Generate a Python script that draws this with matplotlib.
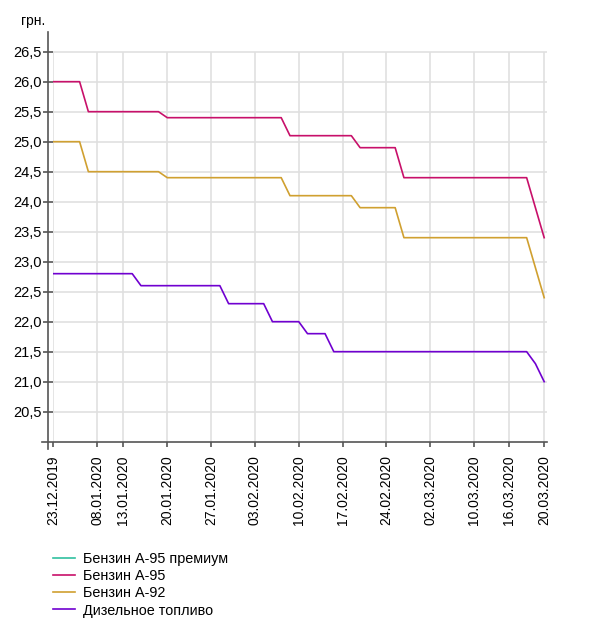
import numpy as np
import matplotlib
matplotlib.use('Agg')
import matplotlib.pyplot as plt
from matplotlib.ticker import FuncFormatter

dates = ['23.12.2019', '24.12.2019', '26.12.2019', '27.12.2019', '30.12.2019',
         '08.01.2020', '09.01.2020', '10.01.2020', '13.01.2020', '14.01.2020',
         '15.01.2020', '16.01.2020', '17.01.2020', '20.01.2020', '21.01.2020',
         '22.01.2020', '23.01.2020', '24.01.2020', '27.01.2020', '28.01.2020',
         '29.01.2020', '30.01.2020', '31.01.2020', '03.02.2020', '04.02.2020',
         '05.02.2020', '06.02.2020', '07.02.2020', '10.02.2020', '11.02.2020',
         '12.02.2020', '13.02.2020', '14.02.2020', '17.02.2020', '18.02.2020',
         '19.02.2020', '20.02.2020', '21.02.2020', '24.02.2020', '25.02.2020',
         '26.02.2020', '27.02.2020', '28.02.2020', '02.03.2020', '03.03.2020',
         '04.03.2020', '05.03.2020', '06.03.2020', '10.03.2020', '11.03.2020',
         '12.03.2020', '13.03.2020', '16.03.2020', '17.03.2020', '18.03.2020',
         '19.03.2020', '20.03.2020']

a95 = [26.0, 26.0, 26.0, 26.0,
       25.5, 25.5, 25.5, 25.5, 25.5, 25.5, 25.5, 25.5, 25.5,
       25.4, 25.4, 25.4, 25.4, 25.4, 25.4, 25.4, 25.4, 25.4, 25.4, 25.4, 25.4, 25.4, 25.4,
       25.1, 25.1, 25.1, 25.1, 25.1, 25.1, 25.1, 25.1,
       24.9, 24.9, 24.9, 24.9, 24.9,
       24.4, 24.4, 24.4, 24.4, 24.4, 24.4, 24.4, 24.4, 24.4, 24.4, 24.4, 24.4, 24.4, 24.4, 24.4,
       23.9, 23.4]

a92 = [25.0, 25.0, 25.0, 25.0,
       24.5, 24.5, 24.5, 24.5, 24.5, 24.5, 24.5, 24.5, 24.5,
       24.4, 24.4, 24.4, 24.4, 24.4, 24.4, 24.4, 24.4, 24.4, 24.4, 24.4, 24.4, 24.4, 24.4,
       24.1, 24.1, 24.1, 24.1, 24.1, 24.1, 24.1, 24.1,
       23.9, 23.9, 23.9, 23.9, 23.9,
       23.4, 23.4, 23.4, 23.4, 23.4, 23.4, 23.4, 23.4, 23.4, 23.4, 23.4, 23.4, 23.4, 23.4, 23.4,
       22.9, 22.4]

diesel = [22.8, 22.8, 22.8, 22.8, 22.8, 22.8, 22.8, 22.8, 22.8, 22.8,
          22.6, 22.6, 22.6, 22.6, 22.6, 22.6, 22.6, 22.6, 22.6, 22.6,
          22.3, 22.3, 22.3, 22.3, 22.3,
          22.0, 22.0, 22.0, 22.0,
          21.8, 21.8, 21.8,
          21.5, 21.5, 21.5, 21.5, 21.5, 21.5, 21.5, 21.5, 21.5, 21.5, 21.5, 21.5,
          21.5, 21.5, 21.5, 21.5, 21.5, 21.5, 21.5, 21.5, 21.5, 21.5, 21.5,
          21.3, 21.0]

tick_dates = ['23.12.2019', '08.01.2020', '13.01.2020', '20.01.2020', '27.01.2020',
              '03.02.2020', '10.02.2020', '17.02.2020', '24.02.2020', '02.03.2020',
              '10.03.2020', '16.03.2020', '20.03.2020']
y_ticks = [20.5, 21.0, 21.5, 22.0, 22.5, 23.0, 23.5, 24.0, 24.5, 25.0, 25.5, 26.0, 26.5]

labels = ['Бензин А-95 премиум', 'Бензин А-95', 'Бензин А-92', 'Дизельное топливо']
colors = ['#30c0a0', '#c8106a', '#d0a030', '#7000d0']

plt.rcParams['font.family'] = ['Liberation Sans', 'DejaVu Sans']
plt.rcParams['font.size'] = 10

fig = plt.figure(figsize=(5.93, 6.24), dpi=100)
ax = fig.add_axes([0.0899, 0.2922, 0.8322, 0.6567])

x = np.arange(len(dates))
tick_pos = [dates.index(d) for d in tick_dates]

# premium has no data, legend only
ax.plot([], [], color=colors[0], lw=1.2, label=labels[0])
ax.plot(x, a95, color=colors[1], lw=1.2, label=labels[1])
ax.plot(x, a92, color=colors[2], lw=1.2, label=labels[2])
ax.plot(x, diesel, color=colors[3], lw=1.2, label=labels[3])

ax.set_xlim(0, 56.3)
ax.set_ylim(20, 26.83)

ax.set_yticks(y_ticks)
ax.yaxis.set_major_formatter(FuncFormatter(lambda v, p: ('%.1f' % v).replace('.', ',')))
ax.set_xticks(tick_pos)
ax.set_xticklabels(tick_dates, rotation=90)

ax.grid(axis='y', color='#e0e0e0', lw=1.2)
ax.vlines(tick_pos, 20, 26.5, color='#e0e0e0', lw=1.2, zorder=0)
ax.set_axisbelow(True)

for s in ['top', 'right']:
    ax.spines[s].set_visible(False)
ax.spines['left'].set_position(('outward', 3.6))
ax.spines['left'].set_bounds(19.88, 26.83)
ax.spines['bottom'].set_bounds(-1.3, 56.3)
for s in ['left', 'bottom']:
    ax.spines[s].set_color('#555555')
    ax.spines[s].set_linewidth(1.2)

ax.tick_params(axis='y', direction='inout', length=7.2, width=1.2, color='#555555',
               pad=1, labelsize=10.5)
ax.tick_params(axis='x', direction='out', length=3.6, width=1.2, color='#555555', pad=6)

fig.text(45 / 593, 1 - 21 / 624, 'грн.', ha='right', va='center', fontsize=10)

fig.legend(loc='upper left', bbox_to_anchor=(53 / 593, 1 - 552 / 624), frameon=False,
           fontsize=10.4, handlelength=1.55, handletextpad=0.55, labelspacing=0.22,
           borderpad=0, borderaxespad=0)

plt.savefig('out.png', dpi=100)
